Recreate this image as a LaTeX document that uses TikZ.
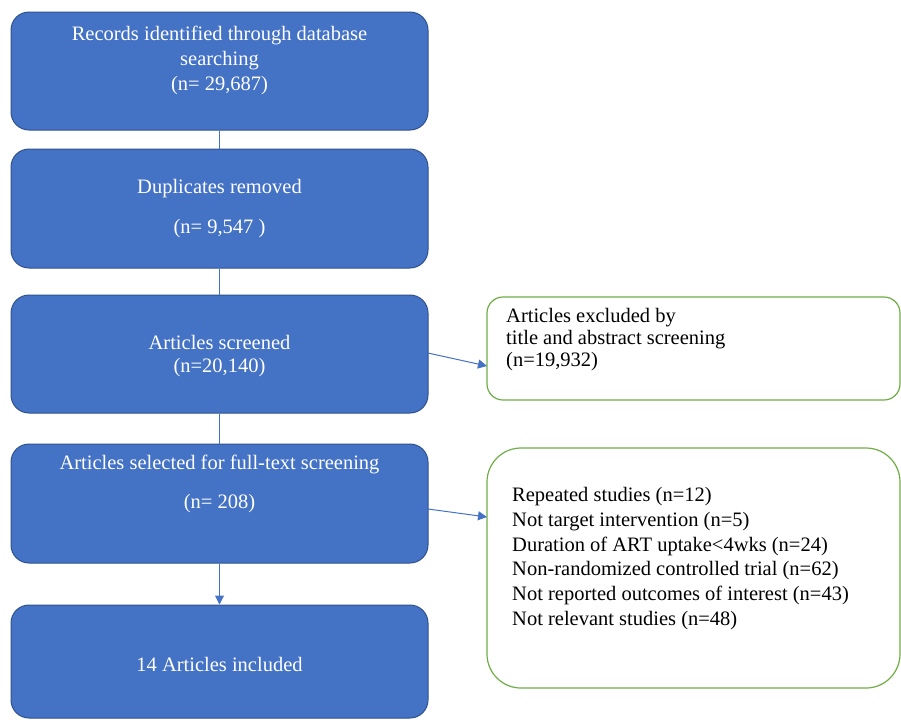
\documentclass[tikz,border=0pt]{standalone}
\usepackage{fontspec}
\setmainfont{Liberation Serif}
\usetikzlibrary{arrows.meta}
\definecolor{bfill}{HTML}{4472C4}
\definecolor{bdraw}{HTML}{2F528F}
\definecolor{gdraw}{HTML}{70AD47}
\tikzset{
  bluebox/.style={draw=bdraw, fill=bfill, line width=1pt, rounded corners=18pt, minimum width=417pt, inner sep=0pt},
  greenbox/.style={draw=gdraw, fill=white, line width=1.2pt, inner sep=0pt},
  btext/.style={text=white, font=\fontsize{20.5}{25}\selectfont, align=center, inner sep=0pt},
  gtext/.style={text=black, font=\fontsize{20.5}{24.8}\selectfont, align=left, anchor=north west, inner sep=0pt},
  conn/.style={draw=bfill, line width=1pt},
  tip/.style={-{Triangle[width=9pt,length=9pt]}}
}
\begin{document}
\begin{tikzpicture}[x=1pt,y=-1pt]
\useasboundingbox (0,0) rectangle (901,721);
\fill[white] (0,0) rectangle (901,721);
% blue boxes
\node[bluebox, minimum height=118pt] (b1) at (219.5,71) {};
\node[bluebox, minimum height=119pt] (b2) at (219.5,208.5) {};
\node[bluebox, minimum height=118pt] (b3) at (219.5,354) {};
\node[bluebox, minimum height=119pt] (b4) at (219.5,503.5) {};
\node[bluebox, minimum height=113pt] (b5) at (219.5,661.5) {};
% texts
\node[btext] (t1) at (219.5,60) {Records identified through database\\searching\\(n= 29,687)};
\node[btext] (t2a) at (219.5,189) {Duplicates removed};
\node[btext] (t2b) at (219.5,229) {(n= 9,547 )};
\node[btext, font=\fontsize{20.5}{23}\selectfont] (t3) at (219.5,356) {Articles screened\\(n=20,140)};
\node[btext] (t4a) at (219.5,464) {Articles selected for full-text screening};
\node[btext] (t4b) at (219.5,504) {(n= 208)};
\node[btext] (t5) at (219.5,664) {14 Articles included};
% green boxes
\draw[greenbox, rounded corners=16pt] (487,297) rectangle (900,400);
\coordinate (g1w) at (487,366);
\draw[greenbox, rounded corners=34pt] (487,448) rectangle (900,688);
\coordinate (g2w) at (487,517);
\node[gtext, font=\fontsize{20.5}{22}\selectfont] (gt1) at (506,308) {Articles excluded by\\title and abstract screening\\(n=19,932)};
\node[gtext] (gt2) at (512,487) {Repeated studies (n=12)\\Not target intervention (n=5)\\Duration of ART uptake<4wks (n=24)\\Non-randomized controlled trial (n=62)\\Not reported outcomes of interest (n=43)\\Not relevant studies (n=48)};
% connectors
\draw[conn] (b1.south) -- (b2.north);
\draw[conn] (b2.south) -- (b3.north);
\draw[conn] (b3.south) -- (b4.north);
\draw[conn, tip] (b4.south) -- (b5.north);
\coordinate (b3e) at (428,353);
\coordinate (b4e) at (428,509);
\draw[conn, tip] (b3e) -- (g1w);
\draw[conn, tip] (b4e) -- (g2w);
\end{tikzpicture}
\end{document}
